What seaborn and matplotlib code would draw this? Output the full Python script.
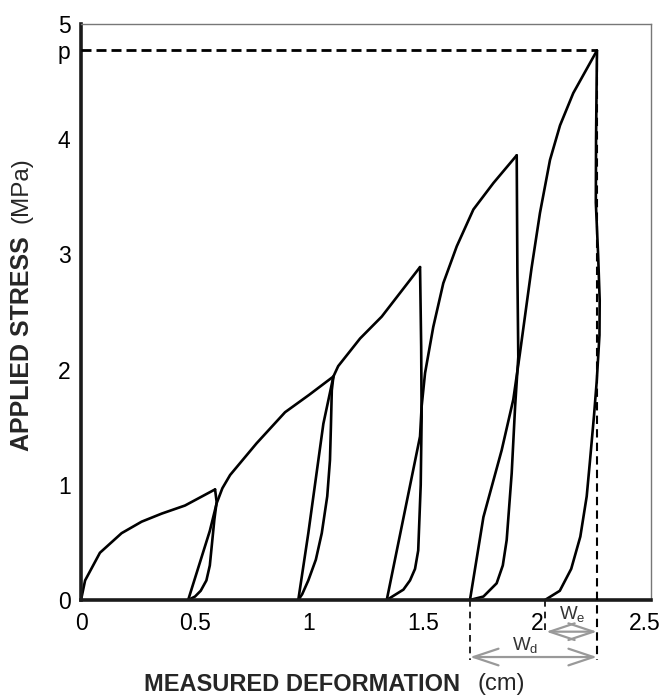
import numpy as np
import pandas as pd
import matplotlib
matplotlib.use("Agg")
import matplotlib.pyplot as plt
import matplotlib.transforms as mtransforms
import seaborn as sns

# ---- data ----
load1_x = [0.0, 0.018, 0.083, 0.178, 0.266, 0.354, 0.456, 0.588]
load1_y = [0.0, 0.17, 0.41, 0.58, 0.68, 0.75, 0.82, 0.96]

unload1_x = [0.588, 0.595, 0.585, 0.575, 0.565, 0.55, 0.525, 0.50, 0.47]
unload1_y = [0.96, 0.85, 0.70, 0.50, 0.30, 0.17, 0.08, 0.03, 0.0]
reload1_x = [0.47, 0.565, 0.595, 0.62, 0.654, 0.77, 0.895, 1.00, 1.107]
reload1_y = [0.0, 0.60, 0.84, 0.97, 1.085, 1.36, 1.63, 1.78, 1.94]

unload2_x = [1.107, 1.10, 1.096, 1.092, 1.08, 1.056, 1.03, 0.997, 0.97, 0.953]
unload2_y = [1.94, 1.82, 1.50, 1.215, 0.90, 0.58, 0.35, 0.17, 0.05, 0.0]
reload2_x = [0.953, 0.997, 1.063, 1.107, 1.128, 1.224, 1.319, 1.487]
reload2_y = [0.0, 0.58, 1.53, 1.94, 2.03, 2.27, 2.46, 2.89]

unload3_x = [1.487, 1.492, 1.494, 1.490, 1.479, 1.465, 1.443, 1.414, 1.341]
unload3_y = [2.89, 2.20, 1.59, 1.00, 0.43, 0.27, 0.17, 0.09, 0.0]
reload3_x = [1.341, 1.487, 1.494, 1.509, 1.545, 1.589, 1.648, 1.721, 1.809, 1.911]
reload3_y = [0.0, 1.42, 1.68, 1.97, 2.37, 2.75, 3.07, 3.39, 3.62, 3.86]

unload4_x = [1.911, 1.914, 1.918, 1.904, 1.889, 1.867, 1.85, 1.823, 1.765, 1.706]
unload4_y = [3.86, 2.84, 2.11, 1.68, 1.10, 0.52, 0.30, 0.145, 0.03, 0.0]
reload4_x = [1.706, 1.765, 1.845, 1.896, 1.925, 1.976, 2.013, 2.057, 2.101, 2.159, 2.263]
reload4_y = [0.0, 0.72, 1.30, 1.74, 2.14, 2.88, 3.36, 3.82, 4.12, 4.40, 4.77]

unload5_x = [2.263, 2.259, 2.258, 2.268, 2.275, 2.274, 2.262, 2.250, 2.232, 2.218, 2.19, 2.15, 2.10, 2.035]
unload5_y = [4.77, 4.00, 3.45, 3.00, 2.60, 2.30, 1.90, 1.60, 1.20, 0.90, 0.55, 0.27, 0.08, 0.0]

p_value = 4.77
wd_start = 1.706
we_start = 2.035
peak_def = 2.263

x_ticks = [0, 0.5, 1, 1.5, 2, 2.5]
x_tick_labels = ["0", "0.5", "1", "1.5", "2", "2.5"]
y_ticks = [0, 1, 2, 3, 4, p_value, 5]
y_tick_labels = ["0", "1", "2", "3", "4", "p", "5"]

segments = [
    (load1_x, load1_y), (unload1_x, unload1_y), (reload1_x, reload1_y),
    (unload2_x, unload2_y), (reload2_x, reload2_y),
    (unload3_x, unload3_y), (reload3_x, reload3_y),
    (unload4_x, unload4_y), (reload4_x, reload4_y),
    (unload5_x, unload5_y),
]
frames = []
for i, (sx, sy) in enumerate(segments):
    frames.append(pd.DataFrame({"deformation": sx, "stress": sy, "seg": i,
                                "order": np.arange(len(sx))}))
df = pd.concat(frames, ignore_index=True)

# ---- plotting ----
sns.set_style("white")
plt.rcParams["font.family"] = ["Liberation Sans", "DejaVu Sans"]
plt.rcParams["mathtext.fontset"] = "custom"
plt.rcParams["mathtext.rm"] = "Liberation Sans"

fig = plt.figure(figsize=(6.65, 6.98), dpi=100)
ax = fig.add_axes([81 / 665, 1 - 600 / 698, 570 / 665, 576 / 698])

sns.lineplot(data=df, x="deformation", y="stress", units="seg", estimator=None,
             sort=False, color="black", lw=1.9, legend=False, ax=ax)

# dashed guides
ax.plot([0, peak_def], [p_value, p_value], color="black", lw=2.0,
        linestyle=(0, (3.6, 1.8)), clip_on=False, zorder=3)
ax.plot([peak_def, peak_def], [p_value, -0.52], color="black", lw=1.5,
        linestyle=(0, (4, 2.5)), clip_on=False, zorder=3)
ax.plot([wd_start, wd_start], [0, -0.52], color="black", lw=1.2,
        linestyle=(0, (4, 3)), clip_on=False)
ax.plot([we_start, we_start], [0, -0.30], color="black", lw=1.2,
        linestyle=(0, (4, 3)), clip_on=False)

# W_e and W_d arrows
arrow_kw = dict(arrowstyle="<->,head_length=0.9,head_width=0.3", color="#999999",
                lw=1.6, mutation_scale=20, shrinkA=0, shrinkB=0)
ax.annotate("", xy=(we_start + 0.005, -0.275), xytext=(peak_def, -0.275),
            arrowprops=arrow_kw, annotation_clip=False)
ax.annotate("", xy=(wd_start, -0.495), xytext=(peak_def, -0.495),
            arrowprops=arrow_kw, annotation_clip=False)
ax.text(2.153, -0.13, r"W$_\mathregular{e}$", fontsize=13.5, color="#333333",
        ha="center", va="center", clip_on=False)
ax.text(1.947, -0.40, r"W$_\mathregular{d}$", fontsize=13.5, color="#333333",
        ha="center", va="center", clip_on=False)

ax.set_xlim(0, 2.5)
ax.set_ylim(0, 5)
ax.set_xticks(x_ticks)
ax.set_xticklabels(x_tick_labels, fontsize=16.5)
ax.set_yticks(y_ticks)
ax.set_yticklabels(y_tick_labels, fontsize=16.5)
ax.tick_params(axis="both", direction="inout", length=13, width=1.2,
               color="#777777", labelcolor="black")
ax.tick_params(axis="x", pad=2)
ax.tick_params(axis="y", pad=1)
ax.set_xlabel("")
ax.set_ylabel("")

# nudge the last x tick label left so it stays inside the figure
last_lbl = ax.get_xticklabels()[-1]
last_lbl.set_transform(last_lbl.get_transform() +
                       mtransforms.ScaledTranslation(-6 / 100, 0, fig.dpi_scale_trans))

for side in ["left", "bottom"]:
    ax.spines[side].set_color("#1a1a1a")
    ax.spines[side].set_linewidth(2.6)
for side in ["top", "right"]:
    ax.spines[side].set_color("#777777")
    ax.spines[side].set_linewidth(1.0)
    ax.spines[side].set_visible(True)

# axis titles: bold part + normal unit part
fig.text(0.454, 0.020, "MEASURED DEFORMATION", fontsize=17, fontweight="bold",
         ha="center", va="center")
fig.text(0.754, 0.020, "(cm)", fontsize=17, ha="center", va="center")
fig.text(0.033, 0.508, "APPLIED STRESS", fontsize=18, fontweight="bold",
         rotation=90, ha="center", va="center")
fig.text(0.033, 0.727, "(MPa)", fontsize=17.5, rotation=90, ha="center", va="center")

fig.savefig("out.png", dpi=100)
